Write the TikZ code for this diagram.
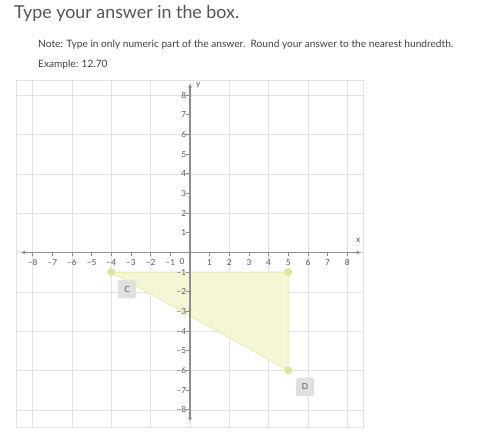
\documentclass[tikz,border=0pt]{standalone}
\usepackage{fontspec}
\setmainfont{Lato}
\usepackage{tikz}
\usetikzlibrary{arrows.meta}

\definecolor{gridgray}{HTML}{E2E2E2}
\definecolor{axisgray}{HTML}{8E8E8E}
\definecolor{textgray}{HTML}{555555}
\definecolor{shadefill}{HTML}{F6F6D6}
\definecolor{shadeedge}{HTML}{E6ECB0}
\definecolor{dotfill}{HTML}{DDE79C}
\definecolor{tagfill}{HTML}{E0E0E0}

\tikzset{
  ticklabel/.style={font=\fontsize{6}{7}\selectfont, text=textgray, inner sep=0pt},
  tagbox/.style={fill=tagfill, rounded corners=1.2pt, minimum width=0.46cm, minimum height=0.47cm,
    font=\fontsize{6}{7}\selectfont, text=textgray, inner sep=0pt},
  vertexdot/.style={circle, fill=dotfill, inner sep=0pt, minimum size=5.8pt}
}

\begin{document}
\begin{tikzpicture}[x=0.5cm, y=0.5cm]
\useasboundingbox (-9.66, -9.79) rectangle (14.70, 12.84);

% heading and note
\node[anchor=base west, inner sep=0pt, text=textgray, font=\fontsize{12.9}{14}\selectfont]
  (title) at (-8.95, 11.88) {Type your answer in the box.};
\node[anchor=base west, inner sep=0pt, text=black!75, font=\fontsize{7.35}{8}\selectfont]
  (note) at (-7.73, 10.44) {Note: Type in only numeric part of the answer.\ \ Round your answer to the nearest hundredth.};
\node[anchor=base west, inner sep=0pt, text=black!75, font=\fontsize{7.3}{8}\selectfont]
  (example) at (-7.73, 9.42) {Example: 12.70};

% grid
\draw[gridgray, line width=0.4pt] (-8.85, -8.9) rectangle (8.8, 8.75);
\draw[gridgray, line width=0.4pt] (-8.85, -8.9) grid (8.8, 8.75);

% triangle
\coordinate (c) at (-4, -1);
\coordinate (e) at (5, -1);
\coordinate (d) at (5, -6);
\filldraw[fill=shadefill, draw=shadeedge, line width=0.6pt] (c) -- (e) -- (d) -- cycle;

% axes
\draw[axisgray, line width=0.9pt, {Latex[length=3pt, width=3pt]}-{Latex[length=3pt, width=3pt]}] (-8.6, 0) -- (8.7, 0);
\draw[axisgray, line width=0.9pt, {Latex[length=3pt, width=3pt]}-{Latex[length=3pt, width=3pt]}] (0, -8.6) -- (0, 8.6);
\node[ticklabel] (xlabel) at (8.55, 0.6) {x};
\node[ticklabel] (ylabel) at (0.42, 8.52) {y};

% ticks and numbers
\foreach \k in {-8,...,-1,1,2,...,8} {
  \draw[axisgray, line width=0.5pt] (\k, 0) -- (\k, -0.2);
  \draw[axisgray, line width=0.5pt] (0, \k) -- (-0.2, \k);
  \node[ticklabel] at (\k, -0.5) {\ifnum\k<0 −\number-\k\else\k\fi};
  \node[ticklabel, anchor=east] at (-0.18, \k) {\ifnum\k<0 −\number-\k\else\k\fi};
}
\node[ticklabel] (zero) at (-0.4, -0.48) {0};

% vertices and tags
\node[vertexdot] (cdot) at (c) {};
\node[vertexdot] (edot) at (e) {};
\node[vertexdot] (ddot) at (d) {};
\node[tagbox] (ctag) at (-3.2, -1.86) {C};
\node[tagbox] (dtag) at (5.85, -6.84) {D};
\end{tikzpicture}
\end{document}
